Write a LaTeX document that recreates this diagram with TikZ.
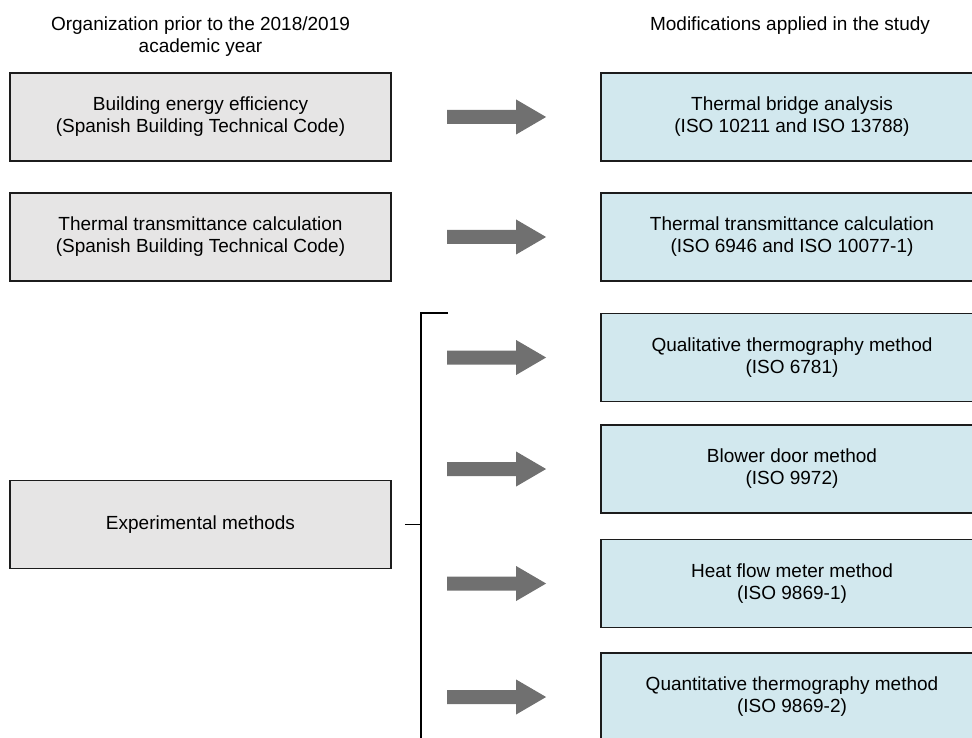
\documentclass[tikz,border=0pt]{standalone}
\usepackage{fontspec}
\setmainfont{Liberation Sans}
\usetikzlibrary{positioning}

\definecolor{oldfill}{RGB}{230,229,229}
\definecolor{newfill}{RGB}{210,232,238}
\definecolor{arrowgray}{RGB}{112,112,112}
\definecolor{edgegray}{RGB}{28,28,28}

\tikzset{
  oldbox/.style={draw=edgegray, line width=1.8pt, fill=oldfill, minimum width=381pt, minimum height=88pt, align=center, font=\fontsize{19}{22}\selectfont},
  newbox/.style={draw=edgegray, line width=1.8pt, fill=newfill, minimum width=382pt, minimum height=88pt, align=center, font=\fontsize{19}{22}\selectfont},
  heading/.style={align=center, font=\fontsize{19}{22}\selectfont},
  bracket/.style={black, line width=1.4pt}
}

\newcommand{\blockarrow}[1]{\fill[arrowgray] (#1) ++(0,-7) -- ++(69,0) -- ++(0,-10.5) -- ++(30,17.5) -- ++(-30,17.5) -- ++(0,-10.5) -- ++(-69,0) -- cycle;}

\begin{document}
\begin{tikzpicture}[x=1pt, y=-1pt]
  \useasboundingbox (0,0) rectangle (972,738);
  \clip (0,0) rectangle (972,738);

  % headings
  \node[heading] (hold) at (200.5,37) {Organization prior to the 2018/2019\\academic year};
  \node[heading, anchor=base] (hnew) at (790,31) {Modifications applied in the study};

  % left column
  \node[oldbox] (L1) at (200.5,117) {Building energy efficiency\\(Spanish Building Technical Code)};
  \node[oldbox] (L2) at (200.5,237) {Thermal transmittance calculation\\(Spanish Building Technical Code)};
  \node[oldbox] (L3) at (200.5,524.5) {Experimental methods};

  % right column
  \node[newbox] (R1) at (792,117) {Thermal bridge analysis\\(ISO 10211 and ISO 13788)};
  \node[newbox] (R2) at (792,237) {Thermal transmittance calculation\\(ISO 6946 and ISO 10077-1)};
  \node[newbox] (R3) at (792,357.5) {Qualitative thermography method\\(ISO 6781)};
  \node[newbox] (R4) at (792,469) {Blower door method\\(ISO 9972)};
  \node[newbox] (R5) at (792,583.5) {Heat flow meter method\\(ISO 9869-1)};
  \node[newbox] (R6) at (792,697) {Quantitative thermography method\\(ISO 9869-2)};

  % arrows
  \foreach \r in {R1,R2,R3,R4,R5,R6}
    \blockarrow{[xshift=-153pt]\r.west};

  % bracket
  \coordinate (brtop) at (448,313);
  \coordinate (brcorner) at (421,313);
  \coordinate (brbot) at (421,745);
  \draw[bracket] (brtop) -- (brcorner) -- (brbot);
  \draw[bracket] ([xshift=13pt]L3.east) -- (L3.east -| brcorner);
\end{tikzpicture}
\end{document}
